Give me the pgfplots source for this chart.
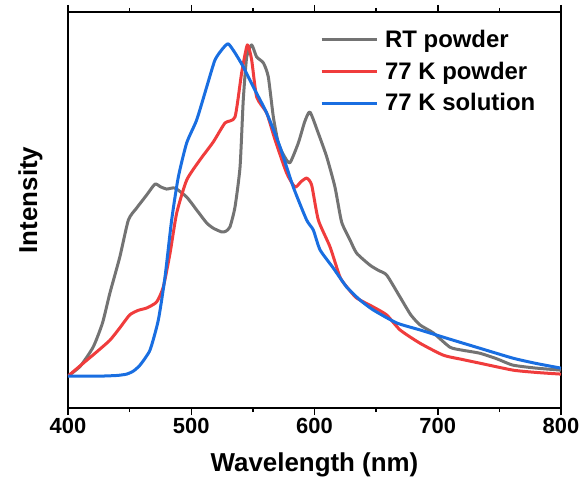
\documentclass[border=0pt]{standalone}
\usepackage{pgfplots}
\pgfplotsset{compat=1.18}
\usepackage{fontspec}
\setmainfont{Liberation Sans}

\definecolor{rtgray}{RGB}{115,115,115}
\definecolor{pred}{RGB}{240,60,60}
\definecolor{sblue}{RGB}{25,110,225}

\tikzset{spec/.style={line width=3bp, line join=round, smooth, tension=0.35}}

\begin{document}
\begin{tikzpicture}
\begin{axis}[
  scale only axis,
  width=493bp, height=396bp,
  xmin=400, xmax=800,
  ymin=-0.096, ymax=1.096,
  xtick={400,500,...,800},
  minor xtick={450,550,650,750},
  ytick=\empty,
  tick align=outside,
  major tick length=7bp,
  minor tick length=4bp,
  every tick/.style={black, line width=1.5bp},
  axis line style={line width=1.5bp},
  tick label style={font=\fontsize{22}{24}\selectfont\bfseries},
  /pgf/number format/assume math mode=true,
  xlabel={Wavelength (nm)},
  ylabel={Intensity},
  xlabel style={font=\fontsize{26}{28}\selectfont\bfseries, yshift=-12bp},
  ylabel style={font=\fontsize{26}{28}\selectfont\bfseries, yshift=15bp, xshift=10bp},
  legend cell align=left,
  legend style={draw=none, fill=none, at={(0.505,0.965)}, anchor=north west,
    font=\fontsize{24}{26}\selectfont\bfseries, row sep=9bp},
  legend image code/.code={\draw[#1] (0bp,0bp) -- (55bp,0bp); \path (60bp,0bp);},
]
\addplot[rtgray, spec] coordinates {
(400,0) (410,0.03) (420.5,0.088) (428,0.16) (434,0.250) (442,0.358) (449,0.470)
(455.7,0.506) (463.8,0.545) (470.6,0.578) (475,0.570) (480,0.563) (486.8,0.566)
(496.3,0.539) (504.4,0.500) (512.5,0.461) (518,0.445) (524.7,0.434) (528,0.436)
(531.4,0.449) (535.5,0.509) (539.6,0.630) (542.2,0.831) (545,0.961) (549,0.997)
(553,0.961) (558.5,0.943) (562.5,0.901) (566.6,0.780) (570.6,0.702) (575,0.665)
(580,0.642) (586.9,0.702) (592,0.765) (596.3,0.795) (603,0.732) (609.9,0.660)
(616.6,0.569) (622,0.464) (628.8,0.410) (634.2,0.370) (645,0.334) (652,0.318)
(658.6,0.304) (669.4,0.238) (678,0.185) (685.6,0.154) (696.4,0.130) (709.9,0.087)
(720,0.078) (734,0.069) (748,0.052) (761,0.033) (780,0.024) (800,0.018)
};
\addlegendentry{RT powder}
\addplot[pred, spec] coordinates {
(400,0) (412.4,0.039) (423,0.072) (434,0.108) (442,0.145) (450,0.184) (457,0.198)
(463.8,0.205) (471.9,0.223) (477.3,0.268) (482.8,0.370) (488.2,0.491)
(496.3,0.590) (507.1,0.651) (517.9,0.705) (527.4,0.762) (535.5,0.780)
(540.9,0.913) (545.5,0.997) (549,0.952) (553.1,0.840) (561.2,0.792) (568,0.711)
(577.4,0.611) (584.2,0.569) (589,0.585) (593.7,0.596) (597.7,0.575) (603.1,0.470)
(612.6,0.389) (620.7,0.298) (627,0.265) (634.2,0.235) (647.7,0.208) (658.6,0.184)
(669.4,0.139) (685.6,0.099) (704.5,0.063) (720,0.050) (734,0.039) (761,0.018)
(780,0.011) (800,0.006)
};
\addlegendentry{77 K powder}
\addplot[sblue, spec] coordinates {
(400,0) (426,0) (440,0.002) (447.6,0.006) (453,0.015) (458.4,0.033) (466.5,0.078)
(473.3,0.169) (478.7,0.298) (484.1,0.470) (489.5,0.599) (496.3,0.702)
(504.4,0.771) (512.5,0.870) (519.3,0.952) (526,0.988) (530.1,1.0) (535.5,0.973)
(542.2,0.931) (550.4,0.870) (561.2,0.792) (572,0.690) (582.8,0.569)
(593.6,0.470) (599,0.440) (604.5,0.380) (615.3,0.325) (626.1,0.268)
(636.9,0.229) (647.7,0.199) (666.7,0.160) (685.6,0.139) (707.3,0.114)
(734,0.084) (761,0.054) (780,0.038) (800,0.024)
};
\addlegendentry{77 K solution}
\end{axis}
\pgfresetboundingbox
\path ([shift={(-68bp,-69bp)}]current axis.south west)
  rectangle ([shift={(21bp,12bp)}]current axis.north east);
\end{tikzpicture}
\end{document}
